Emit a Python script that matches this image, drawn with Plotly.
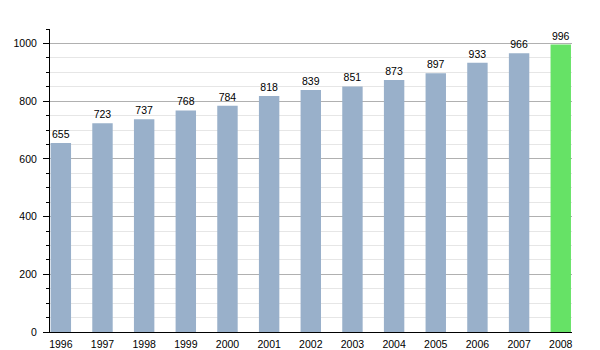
import plotly.graph_objects as go

years = ["1996", "1997", "1998", "1999", "2000", "2001", "2002",
         "2003", "2004", "2005", "2006", "2007", "2008"]
population = [655, 723, 737, 768, 784, 818, 839, 851, 873, 897, 933, 966, 996]

blue = "#99b0ca"
green = "#66e266"
colors = [blue] * (len(years) - 1) + [green]
font_family = "Liberation Sans, Arial, sans-serif"

fig = go.Figure(
    go.Bar(
        x=list(range(len(years))),
        y=population,
        marker=dict(color=colors, line=dict(width=0)),
        width=0.49,
        text=[str(v) for v in population],
        textposition="outside",
        textfont=dict(family=font_family, size=10.5, color="#000"),
        cliponaxis=False,
        hoverinfo="x+y",
    )
)

fig.update_layout(
    width=600,
    height=350,
    margin=dict(l=50, r=28, t=29, b=18),
    paper_bgcolor="white",
    plot_bgcolor="white",
    showlegend=False,
    font=dict(family=font_family, size=10.5, color="#000"),
)

fig.update_xaxes(
    range=[-0.26, 12.27],
    tickmode="array",
    tickvals=list(range(len(years))),
    ticktext=years,
    tickfont=dict(size=10.5),
    showgrid=False,
    showline=True,
    linecolor="#000",
    linewidth=1,
    ticks="",
    zeroline=False,
    ticklabelstandoff=2,
    automargin=False,
)

fig.update_yaxes(
    range=[0, 1050],
    dtick=200,
    tickfont=dict(size=10.5),
    showgrid=True,
    gridcolor="#b0b0b0",
    gridwidth=1,
    showline=True,
    linecolor="#000",
    linewidth=1,
    ticks="outside",
    ticklen=6,
    tickcolor="#000",
    zeroline=False,
    automargin=False,
    ticklabelstandoff=4,
    minor=dict(
        dtick=50,
        showgrid=True,
        gridcolor="#e6e6e6",
        ticks="outside",
        ticklen=3,
        tickcolor="#000",
    ),
)

fig.write_html("out.html")
